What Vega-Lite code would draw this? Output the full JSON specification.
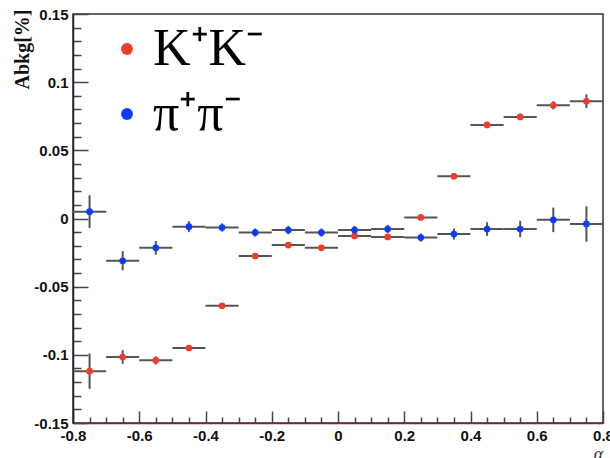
{
  "$schema": "https://vega.github.io/schema/vega-lite/v6.json",
  "width": 530,
  "height": 409,
  "autosize": {"type": "none"},
  "padding": {"left": 73, "top": 14, "right": 7, "bottom": 35},
  "background": "white",
  "config": {
    "view": {"stroke": "#333", "strokeWidth": 1.5},
    "axis": {
      "labelFont": "Liberation Sans",
      "labelFontWeight": "bold",
      "labelFontSize": 15,
      "labelColor": "#111",
      "tickColor": "#444",
      "tickWidth": 1.5,
      "domainColor": "#222",
      "domainWidth": 1.5,
      "grid": false
    }
  },
  "resolve": {"axis": {"x": "independent", "y": "independent"}},
  "data": {
    "values": [
      {"series": "K⁺K⁻", "x": -0.75, "xlo": -0.8, "xhi": -0.7, "y": -0.112, "ylo": -0.125, "yhi": -0.099},
      {"series": "K⁺K⁻", "x": -0.65, "xlo": -0.7, "xhi": -0.6, "y": -0.1016, "ylo": -0.1066, "yhi": -0.0966},
      {"series": "K⁺K⁻", "x": -0.55, "xlo": -0.6, "xhi": -0.5, "y": -0.104, "ylo": -0.107, "yhi": -0.101},
      {"series": "K⁺K⁻", "x": -0.45, "xlo": -0.5, "xhi": -0.4, "y": -0.095, "ylo": -0.097, "yhi": -0.093},
      {"series": "K⁺K⁻", "x": -0.35, "xlo": -0.4, "xhi": -0.3, "y": -0.064, "ylo": -0.0655, "yhi": -0.0625},
      {"series": "K⁺K⁻", "x": -0.25, "xlo": -0.3, "xhi": -0.2, "y": -0.0275, "ylo": -0.029, "yhi": -0.026},
      {"series": "K⁺K⁻", "x": -0.15, "xlo": -0.2, "xhi": -0.1, "y": -0.0195, "ylo": -0.021, "yhi": -0.018},
      {"series": "K⁺K⁻", "x": -0.05, "xlo": -0.1, "xhi": 0.0, "y": -0.0215, "ylo": -0.023, "yhi": -0.02},
      {"series": "K⁺K⁻", "x": 0.05, "xlo": 0.0, "xhi": 0.1, "y": -0.0128, "ylo": -0.0143, "yhi": -0.0113},
      {"series": "K⁺K⁻", "x": 0.15, "xlo": 0.1, "xhi": 0.2, "y": -0.0135, "ylo": -0.015, "yhi": -0.012},
      {"series": "K⁺K⁻", "x": 0.25, "xlo": 0.2, "xhi": 0.3, "y": 0.0008, "ylo": -0.0007, "yhi": 0.0023},
      {"series": "K⁺K⁻", "x": 0.35, "xlo": 0.3, "xhi": 0.4, "y": 0.031, "ylo": 0.0295, "yhi": 0.0325},
      {"series": "K⁺K⁻", "x": 0.45, "xlo": 0.4, "xhi": 0.5, "y": 0.0686, "ylo": 0.067, "yhi": 0.0702},
      {"series": "K⁺K⁻", "x": 0.55, "xlo": 0.5, "xhi": 0.6, "y": 0.0745, "ylo": 0.0725, "yhi": 0.0765},
      {"series": "K⁺K⁻", "x": 0.65, "xlo": 0.6, "xhi": 0.7, "y": 0.083, "ylo": 0.08, "yhi": 0.086},
      {"series": "K⁺K⁻", "x": 0.75, "xlo": 0.7, "xhi": 0.8, "y": 0.086, "ylo": 0.081, "yhi": 0.091},
      {"series": "π⁺π⁻", "x": -0.75, "xlo": -0.8, "xhi": -0.7, "y": 0.005, "ylo": -0.007, "yhi": 0.017},
      {"series": "π⁺π⁻", "x": -0.65, "xlo": -0.7, "xhi": -0.6, "y": -0.031, "ylo": -0.038, "yhi": -0.024},
      {"series": "π⁺π⁻", "x": -0.55, "xlo": -0.6, "xhi": -0.5, "y": -0.0215, "ylo": -0.0265, "yhi": -0.0165},
      {"series": "π⁺π⁻", "x": -0.45, "xlo": -0.5, "xhi": -0.4, "y": -0.006, "ylo": -0.01, "yhi": -0.002},
      {"series": "π⁺π⁻", "x": -0.35, "xlo": -0.4, "xhi": -0.3, "y": -0.0066, "ylo": -0.0096, "yhi": -0.0036},
      {"series": "π⁺π⁻", "x": -0.25, "xlo": -0.3, "xhi": -0.2, "y": -0.0103, "ylo": -0.0133, "yhi": -0.0073},
      {"series": "π⁺π⁻", "x": -0.15, "xlo": -0.2, "xhi": -0.1, "y": -0.0085, "ylo": -0.0115, "yhi": -0.0055},
      {"series": "π⁺π⁻", "x": -0.05, "xlo": -0.1, "xhi": 0.0, "y": -0.0103, "ylo": -0.0133, "yhi": -0.0073},
      {"series": "π⁺π⁻", "x": 0.05, "xlo": 0.0, "xhi": 0.1, "y": -0.0085, "ylo": -0.0115, "yhi": -0.0055},
      {"series": "π⁺π⁻", "x": 0.15, "xlo": 0.1, "xhi": 0.2, "y": -0.0077, "ylo": -0.0107, "yhi": -0.0047},
      {"series": "π⁺π⁻", "x": 0.25, "xlo": 0.2, "xhi": 0.3, "y": -0.014, "ylo": -0.017, "yhi": -0.011},
      {"series": "π⁺π⁻", "x": 0.35, "xlo": 0.3, "xhi": 0.4, "y": -0.0114, "ylo": -0.0154, "yhi": -0.0074},
      {"series": "π⁺π⁻", "x": 0.45, "xlo": 0.4, "xhi": 0.5, "y": -0.0077, "ylo": -0.0127, "yhi": -0.0027},
      {"series": "π⁺π⁻", "x": 0.55, "xlo": 0.5, "xhi": 0.6, "y": -0.0077, "ylo": -0.0137, "yhi": -0.0017},
      {"series": "π⁺π⁻", "x": 0.65, "xlo": 0.6, "xhi": 0.7, "y": -0.001, "ylo": -0.01, "yhi": 0.008},
      {"series": "π⁺π⁻", "x": 0.75, "xlo": 0.7, "xhi": 0.8, "y": -0.004, "ylo": -0.017, "yhi": 0.009}
    ]
  },
  "layer": [
    {
      "mark": {"type": "rule", "color": "#555", "strokeWidth": 2},
      "encoding": {
        "x": {
          "field": "xlo", "type": "quantitative",
          "scale": {"domain": [-0.8, 0.8], "nice": false, "zero": false},
          "axis": {
            "orient": "bottom",
            "values": [-0.75,-0.7,-0.65,-0.55,-0.5,-0.45,-0.35,-0.3,-0.25,-0.15,-0.1,-0.05,0.05,0.1,0.15,0.25,0.3,0.35,0.45,0.5,0.55,0.65,0.7,0.75],
            "labels": false,
            "domain": false,
            "tickSize": -6,
            "title": null
          }
        },
        "x2": {"field": "xhi"},
        "y": {
          "field": "y", "type": "quantitative",
          "scale": {"domain": [-0.15, 0.15], "nice": false, "zero": false},
          "axis": {
            "orient": "left",
            "values": [-0.14,-0.13,-0.12,-0.11,-0.09,-0.08,-0.07,-0.06,-0.04,-0.03,-0.02,-0.01,0.01,0.02,0.03,0.04,0.06,0.07,0.08,0.09,0.11,0.12,0.13,0.14],
            "labels": false,
            "domain": false,
            "tickSize": -8,
            "title": null
          }
        }
      }
    },
    {
      "mark": {"type": "rule", "color": "#555", "strokeWidth": 2},
      "encoding": {
        "x": {"field": "x", "type": "quantitative", "axis": null},
        "y": {"field": "ylo", "type": "quantitative", "axis": null},
        "y2": {"field": "yhi"}
      }
    },
    {
      "mark": {"type": "circle", "size": 45, "opacity": 1},
      "encoding": {
        "x": {
          "field": "x", "type": "quantitative",
          "axis": {
            "orient": "bottom",
            "values": [-0.8,-0.6,-0.4,-0.2,0,0.2,0.4,0.6,0.8],
            "labelExpr": "'' + datum.value",
            "tickSize": -12,
            "labelPadding": 17,
            "labelFlush": false,
            "labelOverlap": false,
            "domainColor": "#7a2a2a",
            "title": "α",
            "titleFont": "Liberation Serif",
            "titleFontStyle": "italic",
            "titleFontWeight": "normal",
            "titleFontSize": 18,
            "titleColor": "#333",
            "titleX": 525,
            "titleY": 22,
            "titleAlign": "center",
            "titleBaseline": "top"
          }
        },
        "y": {
          "field": "y", "type": "quantitative",
          "axis": {
            "orient": "left",
            "values": [-0.15,-0.1,-0.05,0,0.05,0.1,0.15],
            "labelExpr": "'' + datum.value",
            "tickSize": -15,
            "labelPadding": 20,
            "labelFlush": false,
            "labelOverlap": false,
            "title": "Abkg[%]",
            "titleFont": "Liberation Serif",
            "titleFontWeight": "bold",
            "titleFontSize": 20,
            "titleColor": "#111",
            "titleAngle": 270,
            "titleX": -51,
            "titleY": 35,
            "titleAlign": "center",
            "titleBaseline": "middle"
          }
        },
        "color": {
          "field": "series", "type": "nominal",
          "scale": {"domain": ["K⁺K⁻", "π⁺π⁻"], "range": ["#f03c28", "#0a3cff"]},
          "legend": {
            "orient": "none",
            "legendX": 28,
            "legendY": 9,
            "title": null,
            "symbolType": "circle",
            "symbolSize": 140,
            "symbolStrokeWidth": 0,
            "labelFont": "Liberation Serif",
            "labelFontSize": 52,
            "labelColor": "#000",
            "labelOffset": 0,
            "rowPadding": 13,
            "padding": 0
          }
        }
      }
    }
  ]
}
